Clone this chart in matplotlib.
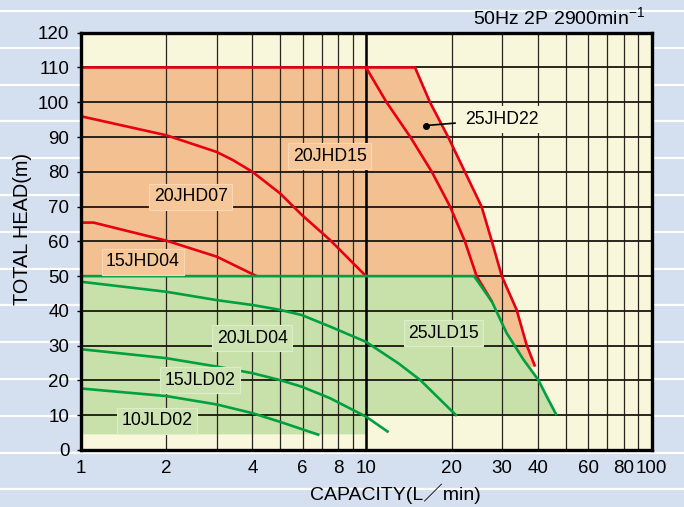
import matplotlib
matplotlib.use("Agg")
import matplotlib.pyplot as plt
from matplotlib.lines import Line2D

plt.rcParams['font.family'] = ['Liberation Sans', 'Noto Sans CJK JP', 'DejaVu Sans']
plt.rcParams['mathtext.fontset'] = 'custom'
plt.rcParams['mathtext.rm'] = 'Liberation Sans'
plt.rcParams['mathtext.it'] = 'Liberation Sans:italic'

# ---- data (capacity L/min, head m) ----
jhd22_q = [1, 14.85, 16.75, 19.4, 22.2, 25.4, 27.6, 29.9, 33.7, 36.5, 39.1]
jhd22_h = [110, 110, 100, 90, 80, 70, 60, 50, 40.3, 30.3, 24]

jhd15_q = [10, 11.8, 14.3, 17.0, 19.7, 22.2, 24.4, 27.6]
jhd15_h = [110, 100, 90, 80, 70, 60, 50, 42.7]

jhd07_q = [1, 2, 3, 3.43, 4.0, 5.0, 5.96, 7.48, 10]
jhd07_h = [96, 90.5, 85.7, 83.3, 80, 73.8, 67.6, 60.4, 50]

jhd04_q = [1, 1.11, 2, 3, 4.14]
jhd04_h = [65.4, 65.4, 60.2, 55.6, 50]

jld15_q = [1, 23.9, 27.6, 31.1, 35.6, 40.1, 43.2, 46.5]
jld15_h = [50, 50, 42.7, 33.6, 26, 20.2, 15, 10]

jld04_q = [1, 2, 3, 4, 5, 5.96, 7.48, 10, 13.0, 15.5, 20.8]
jld04_h = [48.4, 45.5, 43.1, 41.7, 40.3, 38.8, 35.5, 31.1, 24.9, 20.1, 9.8]

jld02_15_q = [1, 2, 3, 4, 5, 5.96, 7.48, 10, 12.0]
jld02_15_h = [29.0, 26.4, 24.0, 22.1, 20.1, 18.2, 14.9, 9.6, 5.1]

jld02_10_q = [1, 2, 3, 4, 5, 6.87]
jld02_10_h = [17.7, 15.5, 13.1, 10.6, 8.1, 4.3]

# green area steps in at 10 L/min below 10 m, floor at about 4.5 m
green_step_q = 10
green_step_h = 10
green_floor_h = 4.5

x_major = [1, 2, 4, 6, 8, 10, 20, 30, 40, 60, 80, 100]
x_minor = [3, 5, 7, 9, 50, 70, 90]
y_ticks = list(range(0, 121, 10))

# label text, anchor (q, h)
red_labels = [("20JHD15", 7.46, 84.5), ("20JHD07", 2.43, 72.8), ("15JHD04", 1.655, 54.1)]
green_labels = [("20JLD04", 3.99, 32.1), ("25JLD15", 18.66, 33.6),
                ("15JLD02", 2.62, 20.1), ("10JLD02", 1.85, 8.4)]
jhd22_label = ("25JHD22", 22.2, 95.1)
jhd22_pointer_q = [16.2, 20.5]
jhd22_pointer_h = [93.3, 94.0]

RED = '#e60012'
GREEN = '#00a040'
ORANGE = '#f3c091'
LGREEN = '#c8e1aa'
CREAM = '#f8f7dc'
BLUE = '#d4dff0'

fig = plt.figure(figsize=(6.84, 5.07), dpi=100, facecolor=BLUE)

# white stripes of the page background
for k in range(14):
    yy = 1 - (11 + 36.8 * k) / 507
    fig.add_artist(Line2D([0, 1], [yy, yy], transform=fig.transFigure,
                          color='white', lw=1.6, zorder=-5))

ax = fig.add_axes([80.5 / 684, 1 - 450 / 507, 571 / 684, (450 - 32.7) / 507])
ax.set_facecolor(CREAM)
ax.set_xscale('log')
ax.set_xlim(1, 100)
ax.set_ylim(0, 120)

# coloured areas
orange_pts = list(zip(jhd22_q, jhd22_h)) + [(1, jhd22_h[-1])]
ax.fill([p[0] for p in orange_pts], [p[1] for p in orange_pts], color=ORANGE, lw=0, zorder=1)
green_pts = list(zip(jld15_q, jld15_h)) + [(green_step_q, green_step_h),
                                          (green_step_q, green_floor_h), (1, green_floor_h)]
ax.fill([p[0] for p in green_pts], [p[1] for p in green_pts], color=LGREEN, lw=0, zorder=1)

# grid
ax.set_xticks(x_major)
ax.set_xticklabels([str(v) for v in x_major])
ax.set_xticks(x_minor, minor=True)
ax.xaxis.set_minor_formatter(matplotlib.ticker.NullFormatter())
ax.set_yticks(y_ticks)
ax.grid(True, axis='x', which='both', color='#2b241c', lw=0.9, zorder=2)
ax.grid(True, axis='y', which='major', color='#1c1610', lw=1.3, zorder=2)
ax.axvline(10, color='black', lw=1.8, zorder=2.6)
ax.set_axisbelow(False)

for s in ax.spines.values():
    s.set_linewidth(2.4)
    s.set_color('black')
    s.set_zorder(6)

ax.tick_params(axis='x', which='both', length=0, pad=7, labelsize=13.5)
ax.tick_params(axis='y', length=3, width=1, pad=5, labelsize=13.5)

# pump curves
for q, h, c in [(jhd22_q, jhd22_h, RED), (jhd15_q, jhd15_h, RED), (jhd07_q, jhd07_h, RED),
                (jhd04_q, jhd04_h, RED), (jld15_q, jld15_h, GREEN), (jld04_q, jld04_h, GREEN),
                (jld02_15_q, jld02_15_h, GREEN), (jld02_10_q, jld02_10_h, GREEN)]:
    ax.plot(q, h, color=c, lw=1.9, zorder=4, solid_capstyle='butt', solid_joinstyle='round')

# labels
for txt, q, h in red_labels:
    ax.text(q, h, txt, ha='center', va='center', fontsize=12.7, zorder=5,
            bbox=dict(boxstyle='square,pad=0.25', fc='#f5c799', ec='#f8d8b8', lw=0.8))
for txt, q, h in green_labels:
    ax.text(q, h, txt, ha='center', va='center', fontsize=12.7, zorder=5,
            bbox=dict(boxstyle='square,pad=0.25', fc='#cde4b2', ec='#ddedca', lw=0.8))
ax.text(jhd22_label[1], jhd22_label[2], jhd22_label[0], ha='left', va='center',
        fontsize=12.7, zorder=5,
        bbox=dict(boxstyle='square,pad=0.25', fc=CREAM, ec=CREAM, lw=0.8))
ax.plot(jhd22_pointer_q, jhd22_pointer_h, color='black', lw=1.2, zorder=5)
ax.plot(jhd22_pointer_q[0], jhd22_pointer_h[0], 'o', color='black', ms=4, zorder=5)

fig.text(645 / 684, 1 - 17 / 507, "50Hz 2P 2900min$^{-1}$", ha='right', va='center', fontsize=14)
fig.text(395 / 684, 1 - 494 / 507, "CAPACITY(L／min)", ha='center', va='center', fontsize=14)
fig.text(23 / 684, 1 - 229 / 507, "TOTAL HEAD(m)", ha='center', va='center',
         rotation=90, fontsize=14.3)

fig.savefig('out.png', dpi=100, facecolor=BLUE)
